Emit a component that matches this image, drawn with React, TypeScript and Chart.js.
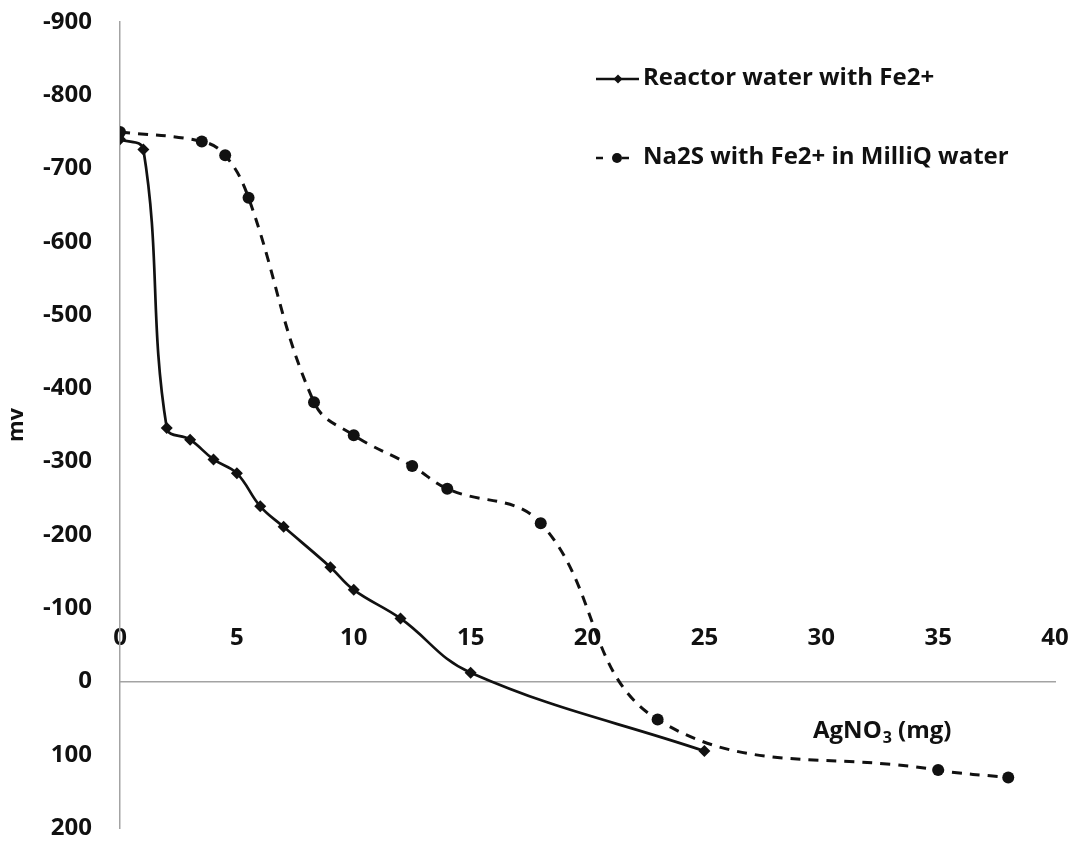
import React, { useEffect, useRef } from "react";
import { Chart, registerables } from "chart.js";

Chart.register(...registerables);

// ---- Data ----
const reactorX = [0, 1, 2, 3, 4, 5, 6, 7, 9, 10, 12, 15, 25];
const reactorY = [-740, -726, -346, -330, -303, -284, -239, -211, -156, -125, -86, -12, 95];

const na2sX = [0, 3.5, 4.5, 5.5, 8.3, 10, 12.5, 14, 18, 23, 35, 38];
const na2sY = [-750, -737, -718, -660, -381, -336, -294, -263, -216, 52, 121, 131];

const seriesLabels = ["Reactor water with Fe2+", "Na2S with Fe2+ in MilliQ water"];
const xTitle = { main: "AgNO", sub: "3", tail: " (mg)" };
const yTitle = "mv";

const xMin = 0, xMax = 40, xStep = 5;
const yMin = -900, yMax = 200, yStep = 100;

const FONT = "'Open Sans', Lato, sans-serif";
const AXIS_GREY = "#a3a3a3";
const INK = "#111111";

const toPoints = (xs: number[], ys: number[]) => xs.map((x, i) => ({ x, y: ys[i] }));

export default function App() {
  const ref = useRef<HTMLCanvasElement>(null);

  useEffect(() => {
    if (!ref.current) return;

    const overlay = {
      id: "overlayText",
      afterDraw(chart: any) {
        const ctx = chart.ctx as CanvasRenderingContext2D;
        ctx.save();
        // legend
        const rows = [79, 158];
        chart.data.datasets.forEach((ds: any, i: number) => {
          const y = rows[i];
          ctx.strokeStyle = INK;
          ctx.fillStyle = INK;
          ctx.lineWidth = 2.7;
          ctx.setLineDash([]);
          if (i === 0) {
            ctx.beginPath();
            ctx.moveTo(596, y);
            ctx.lineTo(639, y);
            ctx.stroke();
            ctx.beginPath();
            ctx.moveTo(618, y - 4.5);
            ctx.lineTo(622.5, y);
            ctx.lineTo(618, y + 4.5);
            ctx.lineTo(613.5, y);
            ctx.closePath();
            ctx.fill();
          } else {
            ctx.beginPath();
            ctx.moveTo(596, y);
            ctx.lineTo(603, y);
            ctx.moveTo(622, y);
            ctx.lineTo(629, y);
            ctx.stroke();
            ctx.beginPath();
            ctx.arc(617, y, 5, 0, Math.PI * 2);
            ctx.fill();
          }
          ctx.font = `bold 24px ${FONT}`;
          ctx.textBaseline = "middle";
          ctx.textAlign = "left";
          ctx.fillText(ds.label, 643, y - 1);
        });
        // x-axis title with subscript
        const ys = chart.scales.y;
        const ty = ys.getPixelForValue(0) + 50;
        let tx = 813;
        ctx.textBaseline = "middle";
        ctx.font = `bold 24px ${FONT}`;
        ctx.fillText(xTitle.main, tx, ty);
        tx += ctx.measureText(xTitle.main).width + 1;
        ctx.font = `bold 16px ${FONT}`;
        ctx.fillText(xTitle.sub, tx, ty + 7);
        tx += ctx.measureText(xTitle.sub).width;
        ctx.font = `bold 24px ${FONT}`;
        ctx.fillText(xTitle.tail, tx, ty);
        ctx.restore();
      },
    };

    const chart = new Chart(ref.current, {
      type: "scatter",
      data: {
        datasets: [
          {
            label: seriesLabels[0],
            data: toPoints(reactorX, reactorY),
            showLine: true,
            borderColor: INK,
            backgroundColor: INK,
            borderWidth: 2.7,
            tension: 0.4,
            pointStyle: "rectRot",
            pointRadius: 6,
            pointBorderWidth: 0,
          },
          {
            label: seriesLabels[1],
            data: toPoints(na2sX, na2sY),
            showLine: true,
            borderColor: INK,
            backgroundColor: INK,
            borderWidth: 3,
            borderDash: [10, 8],
            tension: 0.4,
            pointStyle: "circle",
            pointRadius: 6,
            pointBorderWidth: 0,
          },
        ],
      },
      options: {
        animation: false,
        responsive: true,
        maintainAspectRatio: false,
        layout: { padding: { left: 0, right: 24, top: 22, bottom: 13 } },
        plugins: {
          legend: { display: false },
          tooltip: { enabled: false },
        },
        scales: {
          x: {
            type: "linear",
            position: { y: 0 } as any,
            min: xMin,
            max: xMax,
            ticks: {
              stepSize: xStep,
              padding: -58,
              color: INK,
              font: { family: FONT, size: 24, weight: "bold" },
              maxRotation: 0,
            },
            grid: { display: true, drawOnChartArea: false, drawTicks: false },
            border: { display: true, color: AXIS_GREY, width: 1.5 },
          },
          y: {
            type: "linear",
            reverse: true,
            min: yMin,
            max: yMax,
            ticks: {
              stepSize: yStep,
              padding: 0,
              color: INK,
              font: { family: FONT, size: 24, weight: "bold", lineHeight: 1.0 },
            },
            grid: {
              display: true,
              drawOnChartArea: false,
              drawTicks: true,
              tickLength: 28,
              tickColor: "rgba(0,0,0,0)",
            },
            border: { display: true, color: AXIS_GREY, width: 1.5 },
            title: {
              display: true,
              text: yTitle,
              color: INK,
              font: { family: FONT, size: 22, weight: "bold" },
              padding: { top: 4, bottom: 0 },
            },
            afterFit: (s: any) => {
              s.width = 120;
            },
          },
        },
      },
      plugins: [overlay],
    });

    return () => chart.destroy();
  }, []);

  return (
    <div style={{ position: "fixed", left: 0, top: 0, width: 1079, height: 841, background: "#fff" }}>
      <canvas ref={ref} />
    </div>
  );
}
